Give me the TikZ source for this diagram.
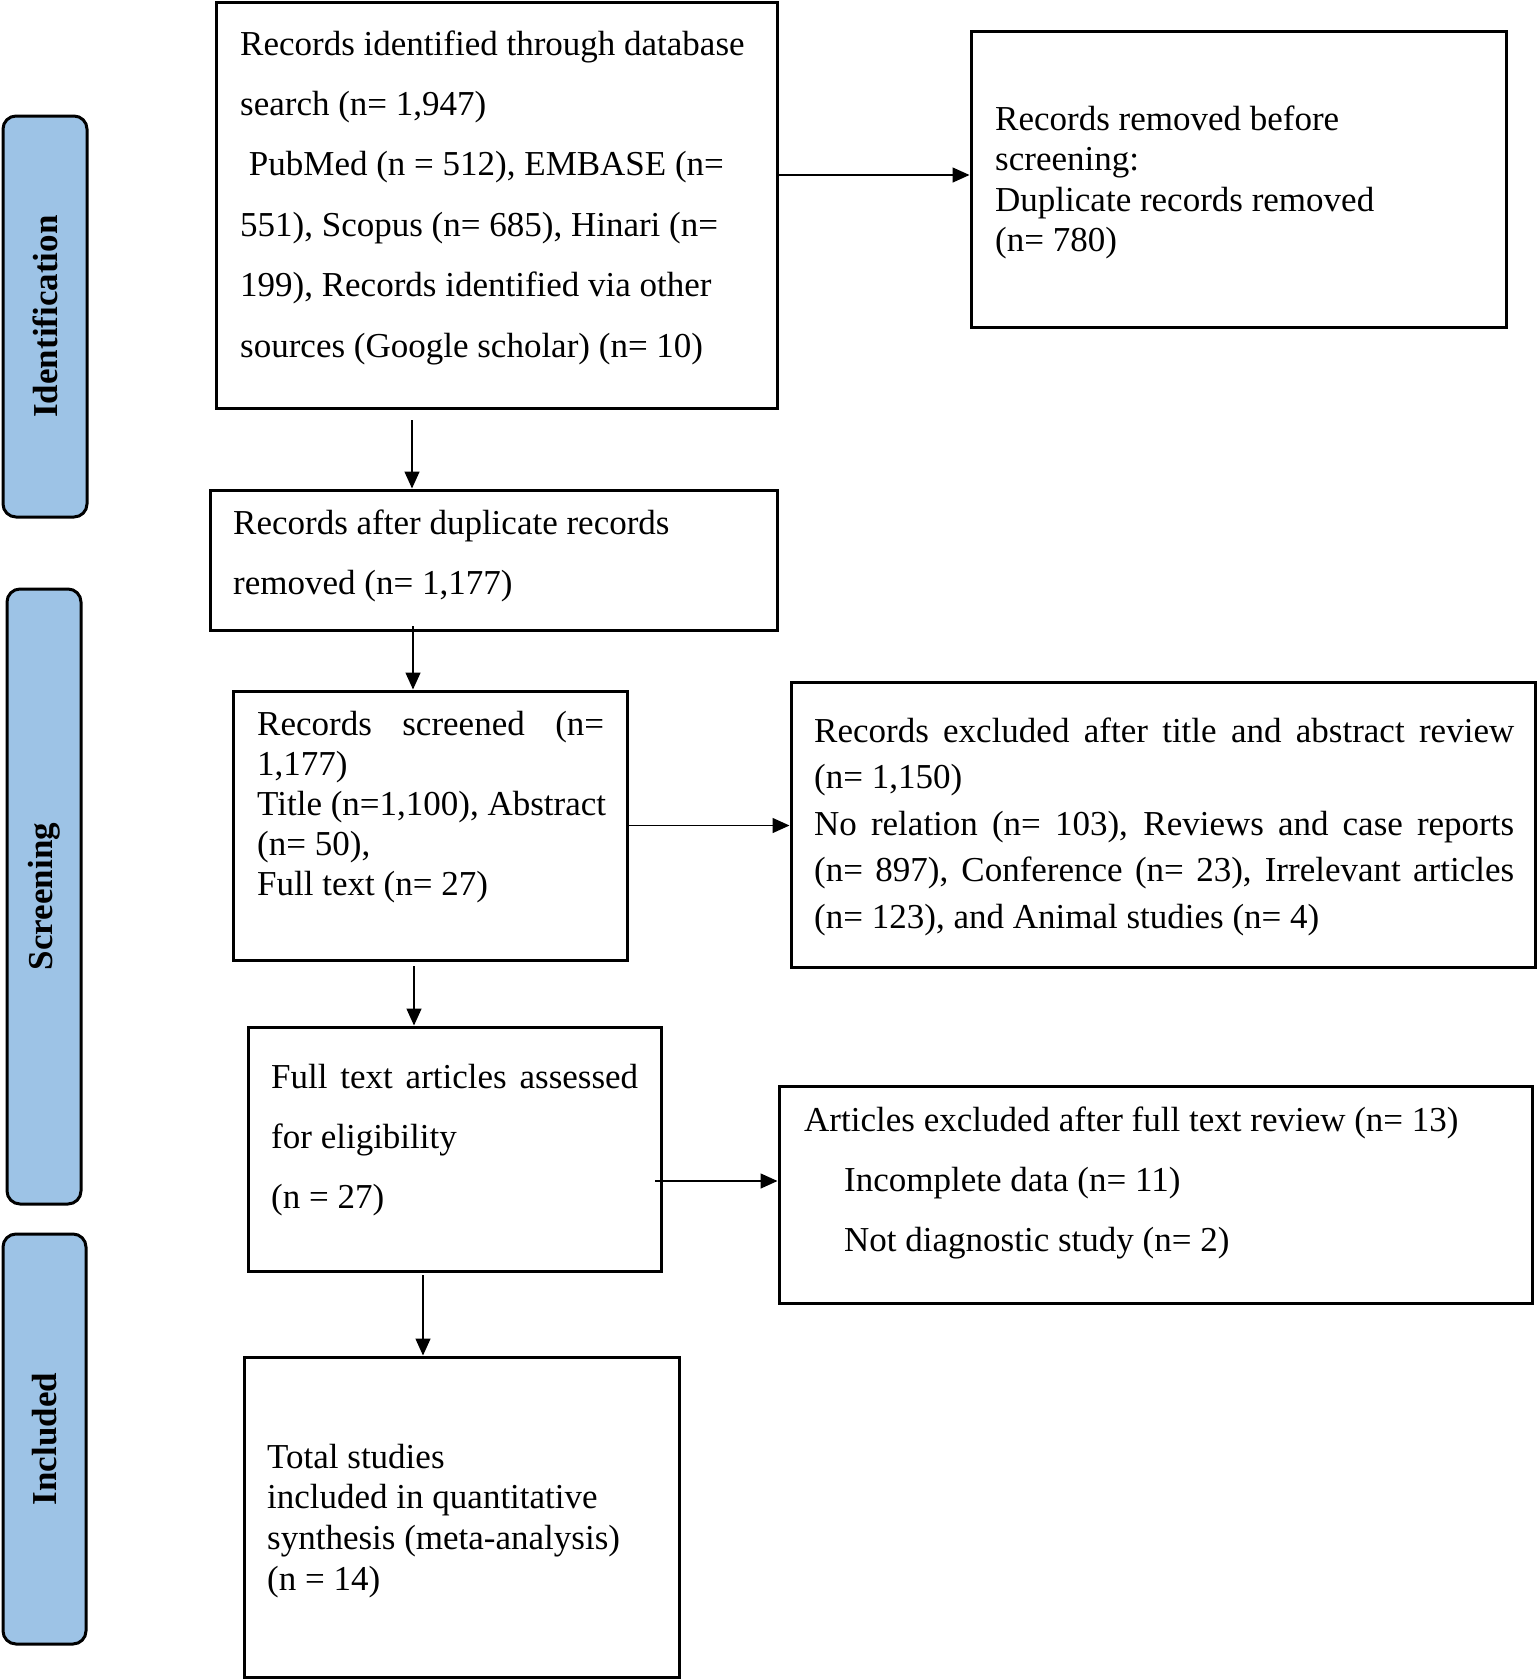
\documentclass[tikz,border=0pt]{standalone}
\usepackage{fontspec}
\setmainfont{Liberation Serif}
\usetikzlibrary{arrows.meta,calc}
\definecolor{sideblue}{HTML}{9DC3E6}
\newcommand\bxt[2]{\parbox[t]{740pt}{\fontsize{35}{#1}\selectfont #2}}
\begin{document}
\begin{tikzpicture}[x=1pt,y=-1pt,
  boxshape/.style={draw=black, line width=3pt, inner sep=0pt, rectangle},
  side/.style={draw=black, line width=3pt, fill=sideblue, rounded corners=13pt, inner sep=0pt, rectangle},
  sidelabel/.style={font=\fontsize{35}{40}\selectfont\bfseries, rotate=90, inner sep=0pt},
  txt/.style={anchor=base west, inner sep=0pt, font=\fontsize{35}{40}\selectfont},
  arr/.style={line width=1.5pt, -{Triangle[length=17pt,width=15pt]}}]
\useasboundingbox (0,0) rectangle (1538,1679);

% side bars
\node[side, minimum width=84pt, minimum height=401pt] (sideI) at (45,316.5) {};
\node[sidelabel] (labI) at (sideI.center) {Identification};
\node[side, minimum width=74pt, minimum height=615pt] (sideS) at (44,896.5) {};
\node[sidelabel] (labS) at (sideS.center) {Screening};
\node[side, minimum width=83pt, minimum height=410pt] (sideInc) at (44.5,1439) {};
\node[sidelabel] (labInc) at (sideInc.center) {Included};

% boxes
\node[boxshape, minimum width=560.5pt, minimum height=406pt] (box1) at (496.75,205) {};
\node[boxshape, minimum width=535pt, minimum height=296pt] (removed) at (1238.5,179.7) {};
\node[boxshape, minimum width=567pt, minimum height=140pt] (box2) at (493.5,560) {};
\node[boxshape, minimum width=394pt, minimum height=269pt] (box3) at (430,825.5) {};
\node[boxshape, minimum width=744pt, minimum height=285pt] (excl1) at (1163,824.5) {};
\node[boxshape, minimum width=413pt, minimum height=244pt] (box4) at (454.5,1149) {};
\node[boxshape, minimum width=753pt, minimum height=217pt] (excl2) at (1155.5,1194.5) {};
\node[boxshape, minimum width=435pt, minimum height=320pt] (box5) at (461.5,1517) {};

% texts
\node[txt] (t1) at (240,55) {\bxt{60.4}{Records identified through database\\
search (n= 1,947)\\
\hspace*{8.75pt}PubMed (n = 512), EMBASE (n=\\
551), Scopus (n= 685), Hinari (n=\\
199), Records identified via other\\
sources (Google scholar) (n= 10)}};

\node[txt] (t2) at (995,130) {\bxt{40.6}{Records removed before\\
screening:\\
Duplicate records removed\\
(n= 780)}};

\node[txt] (t3) at (233,534) {\bxt{60}{Records after duplicate records\\
removed (n= 1,177)}};

\node[txt] (t4) at (257,735) {\bxt{40}{\makebox[347pt][s]{Records screened (n=}\\
1,177)\\
Title (n=1,100), Abstract\\
(n= 50),\\
Full text (n= 27)}};

\node[txt] (t5) at (814,742) {\bxt{46.6}{\makebox[700pt][s]{Records excluded after title and abstract review}\\
(n= 1,150)\\
\makebox[700pt][s]{No relation (n= 103), Reviews and case reports}\\
\makebox[700pt][s]{(n= 897), Conference (n= 23), Irrelevant articles}\\
(n= 123), and Animal studies (n= 4)}};

\node[txt] (t6) at (271,1088) {\bxt{60}{\makebox[367pt][s]{Full text articles assessed}\\
for eligibility\\
(n = 27)}};

\node[txt] (t7) at (804,1131) {\bxt{60}{Articles excluded after full text review (n= 13)\\
\hspace*{40pt}Incomplete data (n= 11)\\
\hspace*{40pt}Not diagnostic study (n= 2)}};

\node[txt] (t8) at (267,1468) {\bxt{40.7}{Total studies\\
included in quantitative\\
synthesis (meta-analysis)\\
(n = 14)}};

% connectors
\coordinate (h1) at (0,175);
\draw[arr] (h1 -| box1.east) -- (h1 -| removed.west);
\coordinate (a1s) at (412,420);
\draw[arr] (a1s) -- (a1s |- box2.north);
\coordinate (a2s) at (413,626);
\draw[arr] (a2s) -- (a2s |- box3.north);
\draw[arr] (box3.east) -- (box3.east -| excl1.west);
\coordinate (a3s) at (414,966);
\draw[arr] (a3s) -- (a3s |- box4.north);
\coordinate (h2) at (655,1181);
\draw[arr] (h2) -- (h2 -| excl2.west);
\coordinate (a4s) at (423,1275);
\draw[arr] (a4s) -- (a4s |- box5.north);
\end{tikzpicture}
\end{document}
